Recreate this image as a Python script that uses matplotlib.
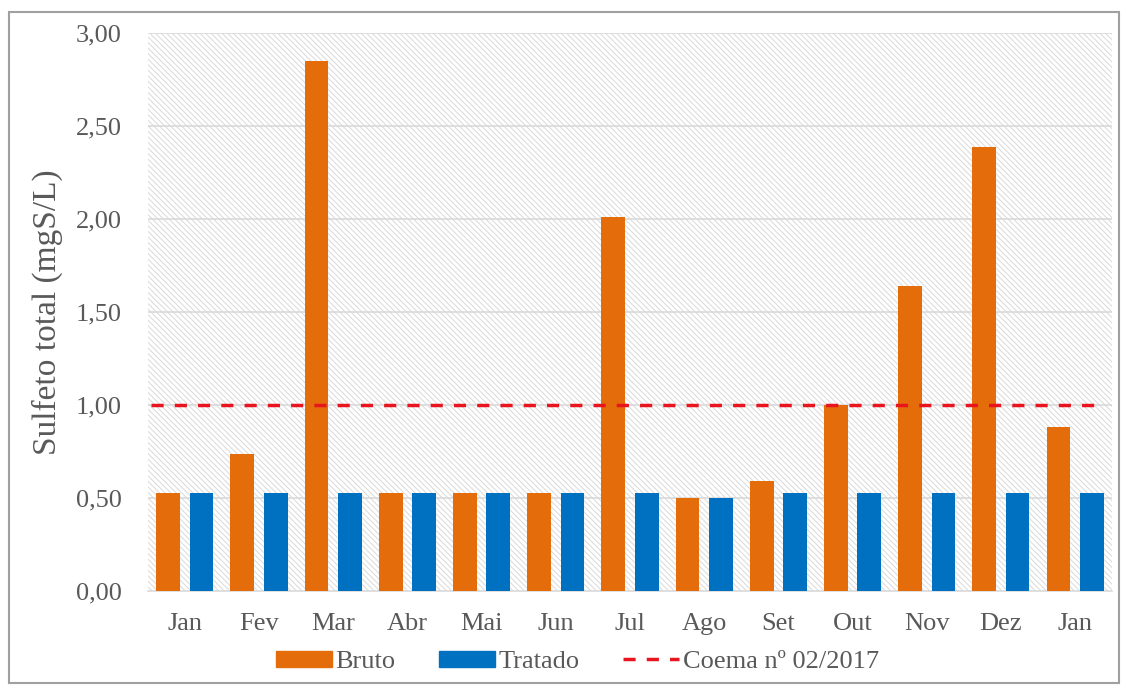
import matplotlib
matplotlib.use("Agg")
import matplotlib.pyplot as plt
import numpy as np
from matplotlib.patches import Rectangle
from matplotlib.lines import Line2D

months = ["Jan", "Fev", "Mar", "Abr", "Mai", "Jun", "Jul", "Ago", "Set", "Out", "Nov", "Dez", "Jan"]
bruto = [0.53, 0.74, 2.85, 0.53, 0.53, 0.53, 2.01, 0.50, 0.59, 1.00, 1.64, 2.39, 0.88]
tratado = [0.53, 0.53, 0.53, 0.53, 0.53, 0.53, 0.53, 0.50, 0.53, 0.53, 0.53, 0.53, 0.53]
coema_limit = 1.00
yticks = [0.0, 0.5, 1.0, 1.5, 2.0, 2.5, 3.0]
ytick_labels = ["0,00", "0,50", "1,00", "1,50", "2,00", "2,50", "3,00"]

plt.rcParams['font.family'] = ['Liberation Serif', 'DejaVu Serif']
plt.rcParams['hatch.color'] = '#d9d9d9'
plt.rcParams['hatch.linewidth'] = 0.7

ORANGE = '#E46C0A'
BLUE = '#0070C0'
TXT = '#595959'
RED = '#E8141E'
DASH = (0, (3.5, 3.2))

fig = plt.figure(figsize=(11.28, 6.93), dpi=100)
fig.patches.append(Rectangle((0.008, 0.015), 0.984, 0.967, transform=fig.transFigure,
                             fill=False, edgecolor='#a0a0a0', linewidth=1.5))
ax = fig.add_axes([0.131, 0.147, 0.855, 0.805])

x = np.arange(len(months))
ax.set_xlim(-0.5, len(months) - 0.5)
ax.set_ylim(0, 3.0)

# hatched background
bg = Rectangle((0, 0), 1, 1, transform=ax.transAxes, facecolor='white',
               edgecolor='#d9d9d9', hatch='\\\\\\\\\\\\', linewidth=0, zorder=0)
ax.add_patch(bg)

for y in yticks[1:]:
    ax.axhline(y, color='#d9d9d9', linewidth=1.2, zorder=1)

w = 0.32
ax.bar(x - 0.225, bruto, width=w, color=ORANGE, zorder=3, label='Bruto')
ax.bar(x + 0.225, tratado, width=w, color=BLUE, zorder=3, label='Tratado')
ax.hlines(coema_limit, -0.45, len(months) - 0.73, colors=RED, linestyles=DASH,
          linewidth=2.5, zorder=4)

ax.set_yticks(yticks)
ax.set_yticklabels(ytick_labels)
ax.set_xticks(x)
ax.set_xticklabels(months)
ax.tick_params(axis='both', length=0, labelsize=19, colors=TXT)
ax.tick_params(axis='x', pad=16)
ax.tick_params(axis='y', pad=19)
for s in ['top', 'right', 'left']:
    ax.spines[s].set_visible(False)
ax.spines['bottom'].set_color('#d9d9d9')
ax.spines['bottom'].set_linewidth(1.2)
ax.set_ylabel('Sulfeto total (mgS/L)', fontsize=24, color=TXT, labelpad=9)

handles = [Rectangle((0, 0), 1, 1, color=ORANGE), Rectangle((0, 0), 1, 1, color=BLUE),
           Line2D([0], [0], color=RED, linestyle=DASH, linewidth=2.5)]
leg = fig.legend(handles, ['Bruto', 'Tratado', 'Coema nº 02/2017'], loc='center',
                 bbox_to_anchor=(0.512, 0.045), ncol=3, frameon=False, fontsize=19,
                 handlelength=2.1, handleheight=0.55, columnspacing=1.65, handletextpad=0.15)
for t in leg.get_texts():
    t.set_color(TXT)

fig.savefig('out.png', dpi=100)
